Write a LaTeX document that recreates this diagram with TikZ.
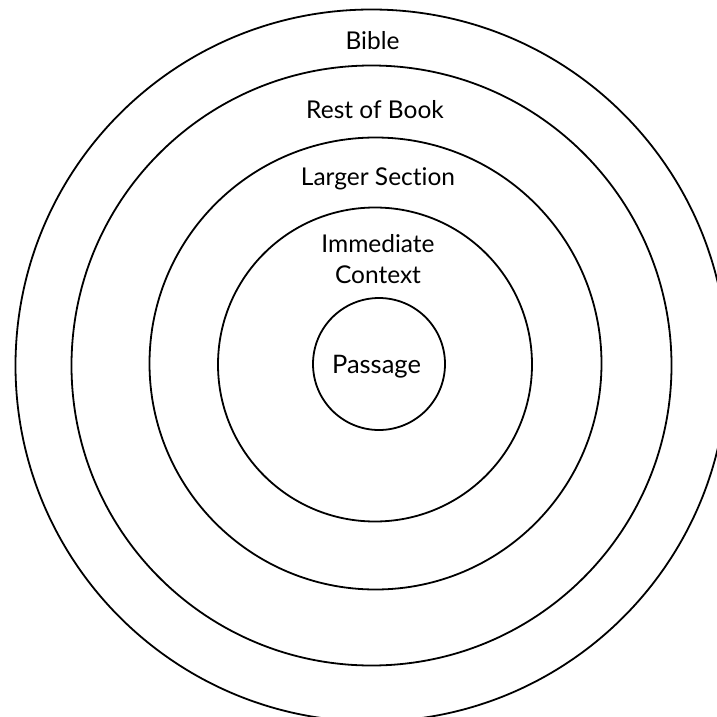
\documentclass[tikz,border=0pt]{standalone}
\usepackage{fontspec}
\setmainfont{Lato}[Ligatures={NoCommon}]
\begin{document}
\begin{tikzpicture}[x=1pt,y=-1pt,
  ring/.style={draw=black, line width=1.8pt, circle, inner sep=0pt},
  lbl/.style={font=\fontsize{24.5}{29}\selectfont, inner sep=0pt, anchor=base},
  biglbl/.style={font=\fontsize{25.5}{30}\selectfont, inner sep=0pt, anchor=base}]
\useasboundingbox (0,0) rectangle (716,717);
\fill[white] (0,0) rectangle (716,717);
\node[ring, minimum size=712pt] (bible) at (371.5,365.5) {};
\node[ring, minimum size=600pt] (rest) at (371.5,365.5) {};
\node[ring, minimum size=452pt] (larger) at (375.5,363.5) {};
\node[ring, minimum size=314pt] (immediate) at (375,364.5) {};
\node[ring, minimum size=132pt] (passage) at (379,364) {};
\node[lbl] (tbible) at (372.5,49) {Bible};
\node[lbl] (trest) at (375,118) {Rest of Book};
\node[lbl] (tlarger) at (378,185) {Larger Section};
\node[lbl] (timm) at (378,252) {Immediate};
\node[lbl] (tctx) at (378,283) {Context};
\node[biglbl] (tpass) at (376.5,373) {Passage};
\end{tikzpicture}
\end{document}
